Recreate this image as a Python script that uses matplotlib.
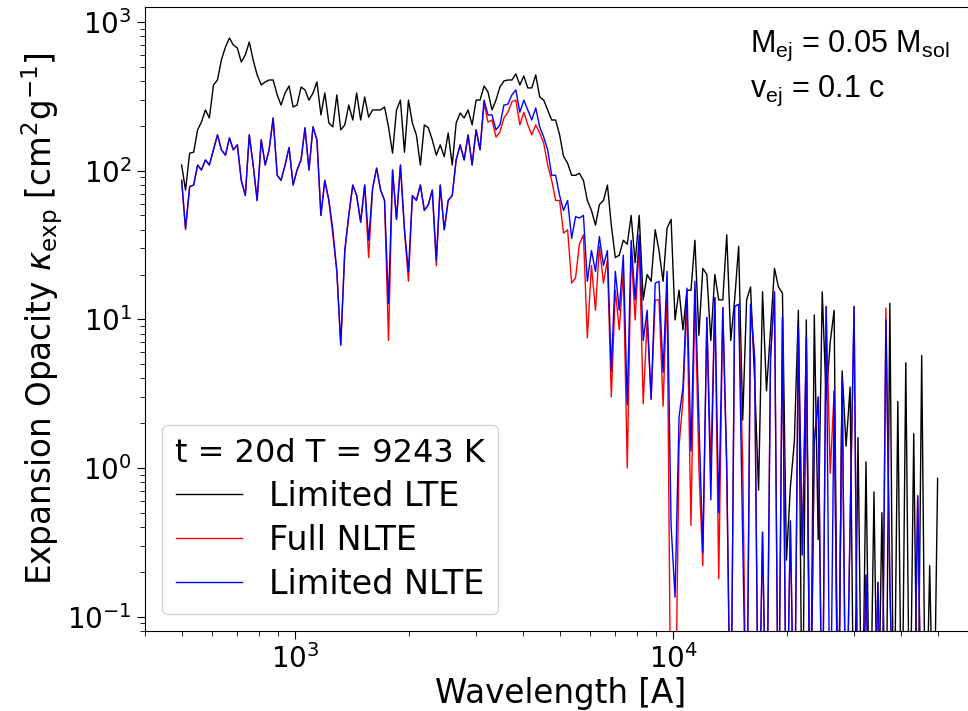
import matplotlib
matplotlib.use('Agg')
import matplotlib.pyplot as plt

plt.rcParams['mathtext.rm'] = 'Liberation Sans'
plt.rcParams['mathtext.it'] = 'Liberation Sans:italic'

# wavelength grid [A]
wave = [500, 512, 525, 538, 551, 564, 578, 592, 607, 622,
        637, 653, 669, 685, 702, 719, 737, 755, 773, 792,
        812, 832, 852, 873, 895, 916, 939, 962, 986, 1010,
        1035, 1060, 1086, 1113, 1140, 1168, 1196, 1226, 1256, 1287,
        1318, 1351, 1384, 1418, 1452, 1488, 1525, 1562, 1600, 1640,
        1680, 1721, 1763, 1807, 1851, 1896, 1943, 1991, 2039, 2089,
        2141, 2193, 2247, 2302, 2359, 2416, 2476, 2536, 2599, 2662,
        2728, 2795, 2863, 2934, 3006, 3079, 3155, 3232, 3312, 3393,
        3476, 3561, 3649, 3738, 3830, 3924, 4020, 4119, 4220, 4323,
        4429, 4538, 4649, 4764, 4880,
        5000, 5120, 5250, 5380, 5510, 5640, 5780, 5920, 6070, 6220,
        6370, 6530, 6690, 6850, 7020, 7190, 7370, 7550, 7730, 7920,
        8120, 8320, 8520, 8730, 8950, 9160, 9390, 9620, 9860, 10100,
        10350, 10600, 10860, 11130, 11400, 11680, 11960, 12260, 12560, 12870,
        13180, 13510, 13840, 14180, 14520, 14880, 15250, 15620, 16000, 16400,
        16800, 17210, 17630, 18070, 18510, 18960, 19430, 19910, 20390, 20890,
        21410, 21930, 22470, 23020, 23590, 24160, 24760, 25360, 25990, 26620,
        27280, 27950, 28630, 29340, 30060, 30790, 31550, 32320, 33120, 33930,
        34760, 35610, 36490, 37380, 38300, 39240, 40200, 41190, 42200, 43230,
        44290, 45380, 46490, 47640, 48800, 50000]

# expansion opacity, Limited LTE
lte = [109, 74, 131, 133, 188, 212, 256, 226, 377, 407,
       555, 679, 780, 700, 668, 538, 600, 733, 555, 440,
       377, 395, 407, 407, 323, 276, 333, 371, 268, 276,
       365, 349, 298, 333, 395, 237, 333, 209, 197, 323,
       188, 203, 276, 219, 333, 219, 313, 229, 256, 256,
       256, 268, 197, 131, 256, 298, 133, 298, 209, 174,
       109, 203, 194, 161, 127, 149, 124, 179, 109, 209,
       244, 226, 256, 203, 298, 298, 371, 338, 256, 298,
       365, 401, 407, 407, 447, 377, 433, 360, 360, 440,
       313, 298, 256, 219, 219, 174, 125, 112, 93, 93,
       96, 86, 63, 54, 43, 59, 63, 80, 43, 26,
       27, 34, 32, 50, 24, 50, 13.5, 20, 18, 40,
       29, 18, 41, 47, 9.9, 15.7, 8.5, 15.7, 15.7, 34,
       7.8, 22, 20, 7.2, 20, 13.5, 13.5, 37, 7.2, 13.5,
       31, 2.1, 13.5, 16.5, 3.9, 0.71, 15.3, 3.3, 8.5, 22,
       16.5, 15, 0.24, 0.74, 1.5, 11.5, 0.01, 9.9, 0.01, 10.7,
       0.33, 15.3, 2.9, 7.0, 11.5, 0.01, 4.5, 1.4, 3.5, 0.01,
       1.6, 0.01, 1.1, 0.01, 0.69, 0.01, 0.50, 0.01, 12.8, 0.01,
       2.8, 0.01, 5.1, 0.01, 1.7, 0.01, 5.7, 0.01, 0.22, 0.01, 0.85]

# expansion opacity, Full NLTE
full_nlte = [86, 40, 78, 80, 109, 101, 118, 109, 138, 174,
             138, 127, 166, 138, 149, 86, 68, 174, 109, 63,
             161, 109, 138, 226, 93, 86, 109, 143, 80, 101,
             118, 194, 101, 197, 161, 50, 86, 63, 37, 21,
             6.7, 29, 50, 80, 68, 45, 80, 26, 76, 104,
             74, 63, 7.2, 101, 47, 109, 40, 18, 68, 63,
             80, 54, 59, 74, 23, 80, 40, 63, 68, 118,
             149, 118, 174, 109, 188, 138, 285, 212, 219, 168,
             182, 226, 247, 291, 298, 203, 247, 203, 174, 203,
             179, 153, 109, 86, 63, 63, 38, 40, 17.5, 19,
             32, 37, 7.5, 23, 11.5, 31, 17.5, 25, 3.0, 15.7,
             8.5, 21, 1.0, 29, 9.9, 32, 2.7, 9.9, 2.9, 13.5,
             13.5, 2.6, 17, 0.01, 0.01, 1.4, 2.9, 13.5, 0.41, 15.7,
             1.0, 0.22, 10.3, 1.0, 14, 0.18, 12, 0.9, 0.01, 12.2,
             12.6, 1.1, 0.01, 12.6, 5.5, 0.01, 0.37, 0.01, 5.6, 15.3,
             0.01, 10.3, 0.01, 0.44, 0.01, 8.8, 0.26, 7.5, 0.01, 1.5,
             3.0, 0.01, 12.2, 0.92, 3.3, 0.01, 4.0, 0.01, 0.43, 12.2,
             0.01, 0.01, 0.19, 0.01, 0.01, 0.17, 0.01, 11.9, 0.17, 0.01,
             0.01, 0.01, 0.01, 0.01, 0.01, 0.65, 0.01, 0.01, 0.01, 0.01, 0.01]

# expansion opacity, Limited NLTE
lim_nlte = [86, 41, 78, 80, 109, 101, 118, 109, 138, 174,
            138, 127, 166, 138, 149, 86, 68, 174, 109, 63,
            161, 109, 138, 226, 93, 86, 109, 143, 80, 101,
            118, 194, 101, 197, 161, 50, 86, 63, 40, 21,
            6.7, 29, 50, 80, 68, 45, 80, 34, 76, 104,
            74, 63, 12.8, 101, 47, 109, 40, 21, 68, 63,
            80, 54, 59, 74, 25, 80, 40, 63, 68, 118,
            149, 118, 174, 109, 188, 138, 298, 237, 237, 188,
            203, 276, 280, 323, 349, 247, 298, 256, 219, 264,
            197, 168, 138, 93, 93, 68, 54, 63, 35, 49,
            48, 50, 18, 29, 21, 36, 23, 29, 4.5, 21,
            11.5, 27, 2.65, 34, 13.5, 37, 7.2, 11.5, 2.9, 17.5,
            18, 4.4, 21, 0.41, 0.135, 2.2, 3.5, 16.2, 1.3, 18,
            2.2, 0.27, 10.3, 0.61, 14, 0.5, 12, 1.08, 0.01, 12.2,
            12.6, 0.33, 0.01, 12.6, 5.5, 0.01, 0.37, 0.01, 5.6, 15.3,
            0.01, 10.3, 0.01, 0.44, 0.01, 8.8, 0.26, 7.5, 0.01, 1.5,
            3.0, 0.01, 12.2, 0.01, 3.3, 0.01, 4.0, 0.01, 0.43, 12.2,
            0.01, 0.01, 0.19, 0.01, 0.01, 0.17, 0.01, 9.9, 0.17, 0.01,
            0.01, 0.01, 0.01, 0.01, 0.01, 0.65, 0.01, 0.01, 0.01, 0.01, 0.01]

fig = plt.figure(figsize=(9.68, 7.11), dpi=100)
ax = fig.add_axes([0.1498, 0.1125, 0.858, 0.8776])

ax.plot(wave, lte, color='black', lw=1, label='Limited LTE')
ax.plot(wave, full_nlte, color='red', lw=1, label='Full NLTE')
ax.plot(wave, lim_nlte, color='blue', lw=1, label='Limited NLTE')

ax.set_xscale('log')
ax.set_yscale('log')
ax.set_xlim(400, 63000)
ax.set_ylim(0.08, 1260)

ax.set_xlabel('Wavelength [A]', fontsize=23.5, labelpad=2)
ax.set_ylabel(r'Expansion Opacity $\kappa_{\rm exp}$ [cm$^2$g$^{-1}$]', fontsize=23.5, labelpad=2)
ax.tick_params(which='major', labelsize=20, length=6)
ax.tick_params(which='minor', length=3.5)

# ejecta parameters
ax.text(0.729, 0.928, r'$\mathregular{M_{ej}}$ = 0.05 $\mathregular{M_{sol}}$',
        transform=ax.transAxes, fontsize=22, family='Liberation Sans',
        math_fontfamily='custom')
ax.text(0.729, 0.856, r'$\mathregular{v_{ej}}$ = 0.1 c',
        transform=ax.transAxes, fontsize=22, family='Liberation Sans',
        math_fontfamily='custom')

ax.legend(loc='lower left', title='t = 20d T = 9243 K', fontsize=24,
          title_fontsize=23, handlelength=2.0, labelspacing=0.33)

fig.savefig('out.png', dpi=100)
